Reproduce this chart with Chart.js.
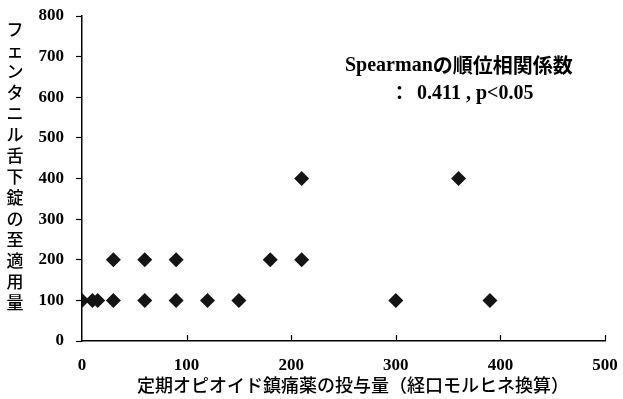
<!DOCTYPE html>
<html>
<head>
<meta charset="utf-8">
<script src="https://cdn.jsdelivr.net/npm/chart.js@4.4.1/dist/chart.umd.min.js"></script>
<style>
  html, body { margin: 0; padding: 0; background: #fff; }
  #wrap { width: 623px; height: 399px; }
</style>
</head>
<body>
<div id="wrap"><canvas id="chart" width="623" height="399"></canvas></div>
<script>
// opioid dose (oral morphine equivalent) vs optimal fentanyl dose
const doseX = [0, 10, 15, 30, 30, 60, 60, 90, 90, 120, 150, 180, 210, 210, 300, 360, 390];
const fentanylY = [100, 100, 100, 100, 200, 100, 200, 100, 200, 100, 100, 200, 200, 400, 100, 400, 100];
const xTicks = [0, 100, 200, 300, 400, 500];
const yTicks = [0, 100, 200, 300, 400, 500, 600, 700, 800];

const xTitle = '定期オピオイド鎮痛薬の投与量（経口モルヒネ換算）';
const yTitle = 'フェンタニル舌下錠の至適用量';
const noteLine1 = ['Spearman', 'の順位相関係数'];
const noteLine2 = ['：', '0.411 , p<0.05'];

const points = doseX.map((x, i) => ({ x: x, y: fentanylY[i] }));

const serif = '"Liberation Serif", "Times New Roman", serif';
const jp = '"Noto Sans CJK JP", sans-serif';

// titles, note and inward x ticks
const extras = {
    id: 'extras',
    afterDraw(chart) {
        const ctx = chart.ctx;
        const xs = chart.scales.x;
        const area = chart.chartArea;
        ctx.save();
        ctx.fillStyle = '#000';
        ctx.strokeStyle = '#000';

        // x ticks point up into the plot
        ctx.lineWidth = 1.2;
        for (const v of xTicks) {
            if (v === 0) continue;
            const px = Math.round(xs.getPixelForValue(v)) + 0.5;
            ctx.beginPath();
            ctx.moveTo(px, area.bottom);
            ctx.lineTo(px, area.bottom - 6);
            ctx.stroke();
        }

        // vertical y title, one upright char per line
        ctx.font = '500 17px ' + jp;
        ctx.textAlign = 'center';
        ctx.textBaseline = 'middle';
        [...yTitle].forEach((c, i) => {
            ctx.fillText(c, 15, 30 + i * 21);
        });

        // x title
        ctx.font = '500 18px ' + jp;
        ctx.fillText(xTitle, 353, 385);

        // spearman note
        ctx.textAlign = 'left';
        ctx.font = 'bold 20px ' + serif;
        let w1 = ctx.measureText(noteLine1[0]).width;
        ctx.fillText(noteLine1[0], 345, 66);
        ctx.font = 'bold 20px ' + jp;
        ctx.fillText(noteLine1[1], 345 + w1, 65);

        ctx.font = 'bold 19px ' + jp;
        ctx.fillText(noteLine2[0], 390, 93);
        ctx.font = 'bold 20px ' + serif;
        ctx.fillText(noteLine2[1], 417, 94);
        ctx.restore();
    }
};

new Chart(document.getElementById('chart'), {
    type: 'scatter',
    data: {
        datasets: [{
            data: points,
            pointStyle: 'rectRot',
            pointRadius: 7.5,
            pointHoverRadius: 7.5,
            backgroundColor: '#141414',
            borderColor: '#141414',
            borderWidth: 0
        }]
    },
    options: {
        responsive: false,
        animation: false,
        layout: {
            padding: { left: 0, right: 18, top: 16, bottom: 0 }
        },
        plugins: {
            legend: { display: false },
            tooltip: { enabled: false }
        },
        scales: {
            x: {
                type: 'linear',
                min: 0,
                max: 500,
                afterBuildTicks: (s) => { s.ticks = xTicks.map(v => ({ value: v })); },
                afterFit: (s) => { s.height = 58; s.paddingLeft = 0; s.paddingRight = 0; },
                border: { color: '#000', width: 1.5 },
                grid: { display: true, drawOnChartArea: false, drawTicks: false },
                ticks: {
                    color: '#000',
                    padding: 14,
                    font: { family: serif, size: 17, weight: 'bold' }
                }
            },
            y: {
                min: 0,
                max: 800,
                afterBuildTicks: (s) => { s.ticks = yTicks.map(v => ({ value: v })); },
                afterFit: (s) => { s.width = 82; s.paddingTop = 0; s.paddingBottom = 0; },
                border: { color: '#000', width: 1.5 },
                grid: { display: true, drawOnChartArea: false, drawTicks: true, tickLength: 6, color: '#000', tickWidth: 1.2 },
                ticks: {
                    color: '#000',
                    padding: 12,
                    font: { family: serif, size: 17, weight: 'bold' }
                }
            }
        }
    },
    plugins: [extras]
});
</script>
</body>
</html>
